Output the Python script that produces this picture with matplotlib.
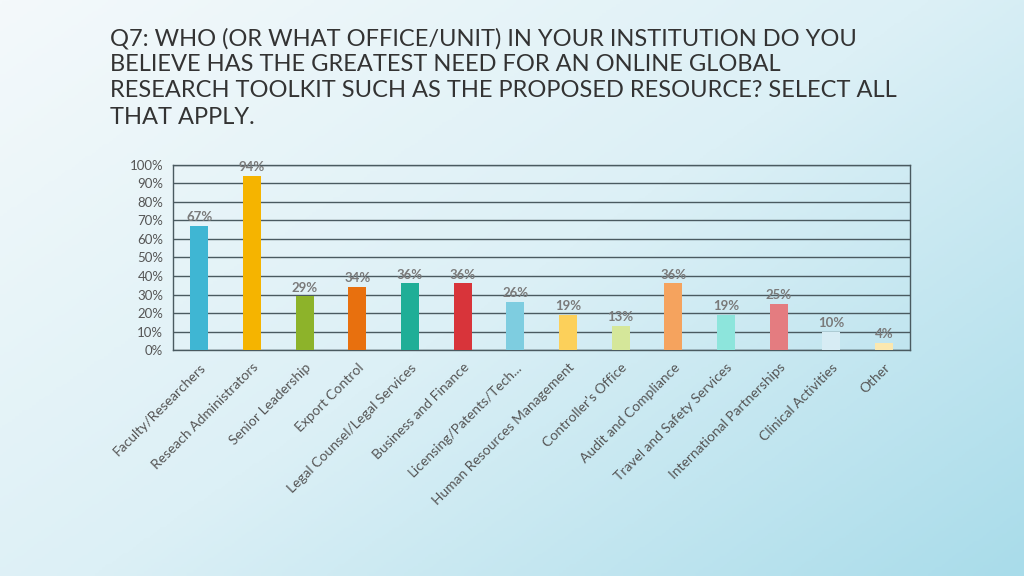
import numpy as np
import matplotlib.pyplot as plt
from matplotlib.colors import LinearSegmentedColormap

# data
categories = ["Faculty/Researchers", "Reseach Administrators", "Senior Leadership",
              "Export Control", "Legal Counsel/Legal Services", "Business and Finance",
              "Licensing/Patents/Tech...", "Human Resources Management",
              "Controller's Office", "Audit and Compliance", "Travel and Safety Services",
              "International Partnerships", "Clinical Activities", "Other"]
values = [67, 94, 29, 34, 36, 36, 26, 19, 13, 36, 19, 25, 10, 4]
bar_colors = ["#3fb6d3", "#f5b400", "#8db32a", "#e8700e", "#1fae97", "#d8343a",
              "#7ecde0", "#fcd05a", "#d5e79a", "#f5a35e", "#8de5dc", "#e47c80",
              "#d7ecf4", "#fbe8b0"]
yticks = list(range(0, 101, 10))

title = ("Q7: WHO (OR WHAT OFFICE/UNIT) IN YOUR INSTITUTION DO YOU\n"
         "BELIEVE HAS THE GREATEST NEED FOR AN ONLINE GLOBAL\n"
         "RESEARCH TOOLKIT SUCH AS THE PROPOSED RESOURCE? SELECT ALL\n"
         "THAT APPLY.")

plt.rcParams['font.family'] = ['Lato', 'DejaVu Sans']

fig = plt.figure(figsize=(10.24, 5.76), dpi=100)

# background gradient
bg = fig.add_axes([0, 0, 1, 1], zorder=-10)
yy, xx = np.mgrid[0:1:200j, 0:1:300j]
grad = 0.55 * xx + 0.45 * yy
cmap = LinearSegmentedColormap.from_list("bg", ["#f4f9fb", "#dcf0f6", "#a9dcea"])
bg.imshow(grad, cmap=cmap, aspect="auto", extent=[0, 1, 0, 1], origin="upper")
bg.axis("off")

fig.text(0.107, 0.952, title, fontsize=17, color="#333333", va="top", ha="left",
         linespacing=1.3)

ax = fig.add_axes([0.169, 0.392, 0.720, 0.322])
ax.patch.set_alpha(0)
x = np.arange(len(categories))
ax.bar(x, values, width=0.34, color=bar_colors, zorder=3)

for xi, v in zip(x, values):
    ax.text(xi, v + 1.5, f"{v}%", ha="center", va="bottom", fontsize=9.5,
            color="#7a7a7a", fontweight="bold", zorder=4)

ax.set_ylim(0, 100)
ax.set_xlim(-0.5, len(categories) - 0.5)
ax.set_yticks(yticks)
ax.set_yticklabels([f"{t}%" for t in yticks], fontsize=9.5, color="#555555")
ax.yaxis.grid(True, color="#4a5a60", linewidth=1, zorder=0)
ax.set_axisbelow(True)
ax.tick_params(axis="y", length=0, pad=7)
ax.tick_params(axis="x", length=0, pad=8)
for s in ax.spines.values():
    s.set_color("#4a5a60")
    s.set_linewidth(1)

ax.set_xticks(x)
ax.set_xticklabels(categories, rotation=45, ha="right", rotation_mode="anchor",
                   fontsize=10, color="#555555")

fig.savefig("out.png", dpi=100)
